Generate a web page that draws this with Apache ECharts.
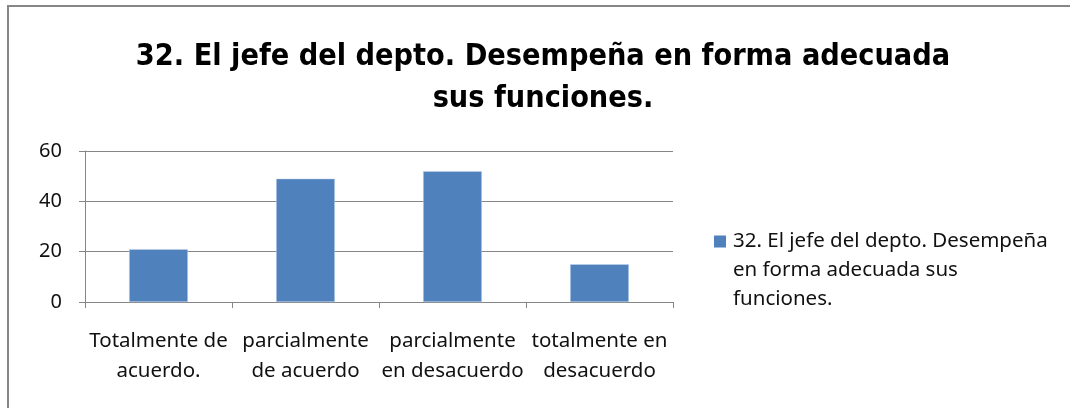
<!DOCTYPE html>
<html>
<head>
<meta charset="utf-8">
<script src="https://cdn.jsdelivr.net/npm/echarts@6/dist/echarts.min.js"></script>
<style>
html,body{margin:0;padding:0;background:#fff;}
#chart{width:1070px;height:408px;}
</style>
</head>
<body>
<div id="chart"></div>
<script>
const titleText = "32. El jefe del depto. Desempeña en forma adecuada\nsus funciones.";
const categories = ["Totalmente de\nacuerdo.", "parcialmente\nde acuerdo", "parcialmente\nen desacuerdo", "totalmente en\ndesacuerdo"];
const seriesName = "32. El jefe del depto. Desempeña en forma adecuada sus funciones.";
const legendLines = ["32. El jefe del depto. Desempeña", "en forma adecuada sus", "funciones."];
const values = [21, 49, 52, 15];
const yTicks = [0, 20, 40, 60];

const TFONT = "'DejaVu Sans Condensed', 'Open Sans', sans-serif";
const FONT = "'Noto Sans', 'Open Sans', sans-serif";
const chart = echarts.init(document.getElementById('chart'), null, {renderer: 'canvas'});
chart.setOption({
  animation: false,
  backgroundColor: '#ffffff',
  textStyle: {fontFamily: FONT},
  title: {
    text: titleText,
    left: 543,
    textAlign: 'center',
    top: 36,
    padding: 0,
    textStyle: {fontFamily: TFONT, fontSize: 30.3, fontWeight: 'bold', color: '#000', lineHeight: 42}
  },
  graphic: [{
    type: 'rect',
    shape: {x: 8, y: 6, width: 1100, height: 440},
    style: {fill: 'none', stroke: '#878787', lineWidth: 2},
    silent: true
  }],
  legend: {
    left: 714,
    top: 227,
    padding: 0,
    itemWidth: 12,
    itemHeight: 70,
    itemGap: 6,
    icon: 'path://M0,70M0,0H12V12H0Z',
    itemStyle: {borderWidth: 0},
    formatter: function () { return legendLines.join('\n'); },
    textStyle: {fontFamily: FONT, fontSize: 20.5, color: '#111', lineHeight: 29, padding: [0, 0, 0, 2]}
  },
  grid: {left: 85, right: 397, top: 151, bottom: 106, containLabel: false},
  xAxis: {
    type: 'category',
    data: categories,
    axisLine: {lineStyle: {color: '#868686', width: 1}},
    axisTick: {show: true, length: 6, lineStyle: {color: '#868686'}},
    axisLabel: {color: '#111', fontSize: 20.5, fontFamily: FONT, lineHeight: 30, margin: 24, interval: 0}
  },
  yAxis: {
    type: 'value',
    min: yTicks[0],
    max: yTicks[yTicks.length - 1],
    interval: 20,
    axisLine: {show: true, lineStyle: {color: '#868686'}},
    axisTick: {show: true, length: 6, lineStyle: {color: '#868686'}},
    splitLine: {lineStyle: {color: '#868686', width: 1}},
    axisLabel: {color: '#111', fontSize: 20, fontFamily: FONT, margin: 23}
  },
  series: [{
    name: seriesName,
    type: 'bar',
    data: values,
    barWidth: '40%',
    itemStyle: {color: '#4f81bd', borderColor: '#c5d4ea', borderWidth: 0.5}
  }]
});
</script>
</body>
</html>
